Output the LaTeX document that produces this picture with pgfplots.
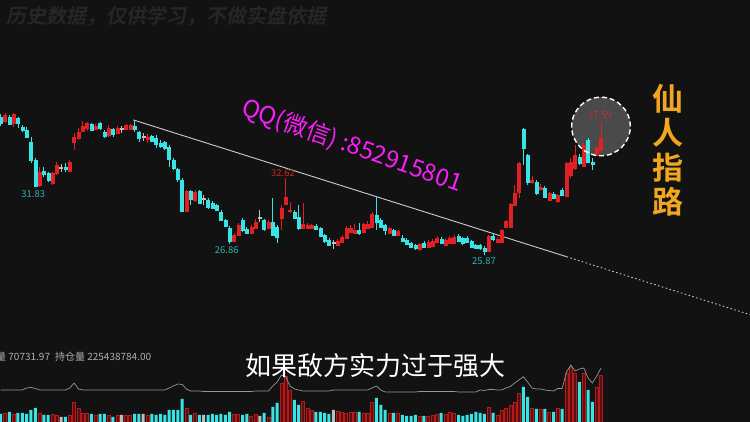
\documentclass[border=0pt]{standalone}
\usepackage{pgfplots}
\pgfplotsset{compat=1.18}
\usepackage{pgfplotstable}
\usepackage{fontspec}
\setmainfont{Noto Sans CJK SC}
\newfontfamily\cjkB{Noto Sans CJK SC Bold}
\newfontfamily\cjkWM{Noto Sans CJK SC Bold}[FakeSlant=0.18]

\definecolor{bg}{RGB}{18,18,18}
\definecolor{wm}{RGB}{38,38,38}
\definecolor{upred}{RGB}{226,32,36}
\definecolor{downcyan}{RGB}{58,228,228}
\definecolor{dojigray}{RGB}{190,190,190}
\definecolor{volredfill}{RGB}{92,14,14}
\definecolor{volredline}{RGB}{180,28,28}
\definecolor{oigray}{RGB}{150,150,150}
\definecolor{trend}{RGB}{205,205,205}
\definecolor{qq}{RGB}{250,30,250}
\definecolor{gold}{RGB}{242,166,32}
\definecolor{lblcyan}{RGB}{50,176,176}
\definecolor{lblred}{RGB}{200,44,44}
\definecolor{infogray}{RGB}{175,175,175}

% daily bars: index, open, high, low, close, volume, open interest (scaled)
\pgfplotstableread{
i o h l c v oi
0 38.03 38.29 37.24 37.50 12000 128
1 37.68 38.38 37.50 38.21 13500 128
2 38.03 38.21 37.33 37.41 15000 128
3 37.50 38.38 37.15 38.29 12000 128
4 37.94 38.03 37.06 37.50 13500 128
5 37.15 37.33 36.71 36.89 13500 128
6 36.89 37.15 36.18 36.27 12000 136
7 35.82 36.27 33.97 34.24 18000 138
8 34.24 34.41 31.83 31.90 21000 134
9 32.04 33.62 31.90 33.18 13500 128
10 33.27 33.62 32.70 33.00 10500 128
11 33.09 33.18 32.30 32.48 10500 128
12 32.21 33.18 32.00 33.09 12000 128
13 33.09 34.06 32.92 33.80 10500 128
14 33.56 33.89 33.18 33.56 7500 128
15 33.56 33.97 33.18 33.45 7500 128
16 33.27 34.24 33.18 34.06 10500 136
17 35.82 36.62 35.12 36.27 30000 156
18 36.18 37.06 36.00 36.71 21000 132
19 36.80 37.68 36.71 37.24 13500 128
20 37.06 37.55 36.80 37.50 13500 128
21 37.41 37.50 36.80 36.89 12000 128
22 36.97 37.37 36.89 37.24 10500 128
23 37.50 37.62 36.89 37.06 12000 128
24 36.71 36.89 36.18 36.36 12000 128
25 36.45 37.33 36.27 37.06 10500 128
26 36.97 37.06 36.27 36.53 7500 128
27 36.62 37.19 36.53 37.06 10500 128
28 36.97 37.24 36.62 36.97 10500 128
29 36.97 37.41 36.89 37.33 10500 128
30 36.97 37.41 36.89 37.33 10500 128
31 37.24 37.68 36.71 36.97 12000 128
32 36.71 36.80 35.82 36.18 12000 128
33 36.29 36.62 35.91 36.29 12000 128
34 36.09 36.53 35.74 36.27 10500 128
35 36.36 36.45 35.82 35.91 12000 128
36 36.18 36.45 35.30 35.65 10500 128
37 35.74 36.00 35.30 35.47 12000 128
38 35.82 35.91 35.12 35.30 10500 128
39 35.38 35.56 33.62 34.33 18000 136
40 34.24 34.41 33.36 33.53 18000 144
41 33.45 33.53 32.30 32.56 18000 152
42 32.48 32.65 29.70 29.74 34500 150
43 29.74 31.59 29.66 31.51 21000 132
44 31.51 31.59 30.27 30.80 10500 124
45 30.71 31.59 30.54 31.42 13500 124
46 31.51 31.63 30.36 30.45 10500 124
47 30.80 31.15 30.27 30.80 10500 122
48 30.71 30.89 29.92 30.10 10500 122
49 30.45 30.63 29.92 30.00 12000 122
50 30.27 30.36 29.74 29.83 10500 122
51 29.66 29.83 28.86 28.95 12000 122
52 28.95 29.04 28.33 28.42 10500 122
53 28.25 28.42 26.86 27.06 15000 122
54 27.10 27.81 26.97 27.63 12000 122
55 27.63 28.69 27.54 28.51 12000 122
56 28.95 29.13 27.89 28.07 10500 122
57 28.16 28.33 27.72 27.81 12000 122
58 27.81 28.51 27.72 28.33 9000 122
59 28.25 29.04 28.16 28.78 12000 124
60 29.13 29.83 28.78 29.13 9000 124
61 28.95 29.04 27.98 28.16 13500 124
62 28.25 28.95 28.16 28.78 7500 124
63 28.78 30.89 27.54 27.63 22500 144
64 28.33 28.51 26.95 27.45 28500 160
65 29.13 30.27 28.07 30.01 58500 188
66 30.36 32.62 30.27 30.98 69000 180
67 29.69 30.54 29.57 29.83 48000 144
68 29.66 29.83 29.04 29.13 33000 132
69 29.22 30.27 28.07 28.25 25500 128
70 28.25 30.45 28.16 28.60 31500 124
71 28.25 28.69 28.16 28.51 21000 124
72 28.25 28.60 28.16 28.51 18000 124
73 28.42 28.60 28.07 28.16 15000 124
74 28.25 28.33 27.45 27.54 15000 124
75 27.63 27.72 26.93 27.04 13500 124
76 27.19 27.37 26.66 26.75 12000 124
77 26.97 27.19 26.40 26.97 18000 128
78 26.75 27.28 26.66 27.10 16500 128
79 27.01 27.63 26.93 27.45 15000 128
80 27.37 28.42 27.28 28.25 13500 128
81 27.89 28.51 27.81 28.25 15000 128
82 27.81 28.60 27.72 28.07 15000 128
83 28.07 28.69 27.63 27.81 15000 128
84 27.89 28.69 27.81 28.60 13500 128
85 28.25 28.86 28.16 28.60 13500 128
86 28.33 29.66 28.25 29.48 30000 136
87 29.39 30.98 28.07 28.78 36000 144
88 28.95 29.13 28.25 28.33 25500 128
89 28.51 28.60 27.63 28.07 18000 120
90 27.81 28.33 27.72 28.25 13500 120
91 28.07 28.16 27.54 27.63 13500 120
92 27.63 28.07 27.54 27.98 13500 120
93 27.37 27.63 27.01 27.04 10500 120
94 27.19 27.37 26.75 26.84 9000 120
95 26.93 27.01 26.48 26.57 9000 120
96 26.75 26.84 26.31 26.48 10500 120
97 26.40 26.93 26.22 26.84 9000 122
98 26.93 27.10 26.48 26.57 9000 122
99 26.57 27.19 26.48 27.01 9000 122
100 26.66 27.28 26.57 27.10 10500 122
101 27.01 27.54 26.93 27.37 12000 122
102 27.28 27.45 26.84 26.93 13500 122
103 26.75 27.37 26.66 27.19 12000 122
104 26.93 27.54 26.84 27.37 15000 122
105 26.93 27.63 26.84 27.45 13500 122
106 27.54 27.72 27.01 27.10 10500 120
107 27.37 27.45 26.75 26.93 9000 120
108 27.37 27.54 26.93 27.01 10500 120
109 27.10 27.19 26.48 26.57 12000 120
110 26.75 26.84 26.40 26.48 15000 120
111 26.75 26.84 26.31 26.48 13500 128
112 26.48 26.66 25.87 26.21 12000 126
113 26.21 27.63 26.13 27.54 22500 130
114 27.54 27.81 27.10 27.28 13500 130
115 27.01 27.45 26.93 27.28 10500 128
116 27.01 28.16 27.01 28.07 18000 128
117 28.33 28.95 28.25 28.86 21000 136
118 28.33 30.45 28.25 30.36 25500 142
119 30.27 32.04 30.19 31.33 30000 156
120 31.42 34.06 30.89 33.97 43500 168
121 36.97 37.06 33.80 35.30 52500 181
122 34.68 34.77 32.04 32.30 37500 160
123 32.30 32.83 32.12 32.48 21000 136
124 32.30 32.48 31.15 31.33 19500 132
125 31.68 32.12 31.51 31.86 19500 132
126 31.77 31.95 30.89 30.98 19500 128
127 30.71 31.42 30.63 31.33 15000 126
128 31.24 31.42 30.80 30.89 15000 124
129 30.63 31.24 30.45 31.15 21000 134
130 31.59 31.77 31.07 31.15 19500 134
131 31.07 34.06 30.98 33.97 73500 200
132 32.92 34.41 32.65 34.06 82500 228
133 33.53 35.56 33.36 34.68 73500 204
134 34.50 34.77 33.80 33.97 60000 212
135 33.71 35.74 33.62 35.56 73500 216
136 36.00 36.18 33.97 34.06 48000 176
137 34.06 34.41 33.36 33.84 30000 156
138 34.68 35.47 34.59 35.30 52500 184
139 35.12 37.59 35.03 36.18 70731.97 216
}\kdata

% 11.3508 pt per price unit on the 422pt tall price panel
\pgfplotsset{
  panel/.style={at={(0,0)}, anchor=south west, scale only axis,
    width=750pt, height=422pt, xmin=-0.162, xmax=173.49,
    hide axis, clip=false},
  candle/.style={only marks, scatter, forget plot,
    mark=*, mark size=0pt, mark options={draw=none, fill=none},
    visualization depends on={max(0.5*abs(\thisrow{c}-\thisrow{o})*11.3508,0.5) \as \bh},
    visualization depends on={(\thisrow{h}-0.5*(\thisrow{o}+\thisrow{c}))*11.3508 \as \wt},
    visualization depends on={(\thisrow{l}-0.5*(\thisrow{o}+\thisrow{c}))*11.3508 \as \wb},
    scatter/@pre marker code/.code={%
      \draw[#1, line width=0.8pt] (0pt,\wb pt) -- (0pt,\wt pt);
      \fill[#1] (-1.5pt,-\bh pt) rectangle (1.5pt,\bh pt);},
    scatter/@post marker code/.code={},
  },
  volbar/.style={ybar, bar width=3pt, bar shift=0pt, forget plot},
}

\begin{document}
\begin{tikzpicture}[x=1pt,y=1pt]
\path[use as bounding box] (0,0) rectangle (750,422);
\fill[bg] (0,0) rectangle (750,422);

% faint watermark
\node[anchor=west, inner sep=0pt, text=wm, font=\cjkWM\fontsize{20}{20}\selectfont]
  at (6,405.5) {历史数据，仅供学习，不做实盘依据};

% highlight disc behind the latest candles
\fill[white, fill opacity=0.24] (601,295.5) circle[radius=29.3];

% volume panel
\begin{axis}[panel, ymin=0, ymax=633000]
  \addplot[volbar, fill=volredfill, draw=volredline, line width=0.6pt]
    table[x=i, y expr={\thisrow{c}>\thisrow{o} ? \thisrow{v} : nan}] {\kdata};
  \addplot[volbar, fill=downcyan, draw=none]
    table[x=i, y expr={\thisrow{c}<\thisrow{o} ? \thisrow{v} : nan}] {\kdata};
  \addplot[volbar, fill=dojigray, draw=none]
    table[x=i, y expr={\thisrow{c}==\thisrow{o} ? \thisrow{v} : nan}] {\kdata};
\end{axis}

% open interest line
\begin{axis}[panel, ymin=0, ymax=1688]
  \addplot[color=oigray, line width=0.7pt, mark=none] table[x=i, y=oi] {\kdata};
\end{axis}

% price panel: each candle is placed at the middle of its body
\begin{axis}[panel, ymin=11.156, ymax=48.334]
  \addplot[candle=upred] table[x=i,
    y expr={\thisrow{c}>\thisrow{o} ? 0.5*(\thisrow{o}+\thisrow{c}) : nan}] {\kdata};
  \addplot[candle=downcyan] table[x=i,
    y expr={\thisrow{c}<\thisrow{o} ? 0.5*(\thisrow{o}+\thisrow{c}) : nan}] {\kdata};
  \addplot[candle=dojigray] table[x=i,
    y expr={\thisrow{c}==\thisrow{o} ? \thisrow{o} : nan}] {\kdata};
  % descending trend line and its projection
  \addplot[color=trend, line width=0.9pt, mark=none] coordinates {(30.7,37.77) (131.0,25.72)};
  \addplot[color=trend, line width=0.9pt, mark=none, dash pattern=on 1.5pt off 2.5pt]
    coordinates {(131.0,25.72) (173.6,20.60)};
\end{axis}

\draw[white, line width=1.4pt, dash pattern=on 5pt off 3pt] (601,295.5) circle[radius=29.3];

% extreme value tags
\begin{scope}[every node/.style={inner sep=0pt, font=\fontsize{9.5}{10}\selectfont}]
  \node[text=lblcyan] at (33.3,228) {31.83};
  \node[text=lblcyan] at (226.7,171.5) {26.86};
  \node[text=lblred] at (283,249.2) {32.62};
  \node[text=lblcyan] at (484,160.7) {25.87};
  \node[text=lblred] at (600,306.5) {37.59};
\end{scope}

% volume panel caption
\node[anchor=west, inner sep=0pt, text=infogray, font=\fontsize{10}{10}\selectfont]
  at (-4,65) {量 70731.97\hspace{5pt}持仓量 225438784.00};

% overlay captions
\node[text=qq, rotate=-19.5, inner sep=0pt, font=\fontsize{24}{24}\selectfont]
  at (352,276) {QQ(微信) :852915801};
\node[text=gold, align=center, inner sep=0pt, font=\cjkB\fontsize{31}{34.5}\selectfont]
  at (667.5,272) {仙\\人\\指\\路};
\node[text=white, inner sep=0pt, font=\fontsize{26}{26}\selectfont]
  at (375,56) {如果敌方实力过于强大};
\end{tikzpicture}
\end{document}
